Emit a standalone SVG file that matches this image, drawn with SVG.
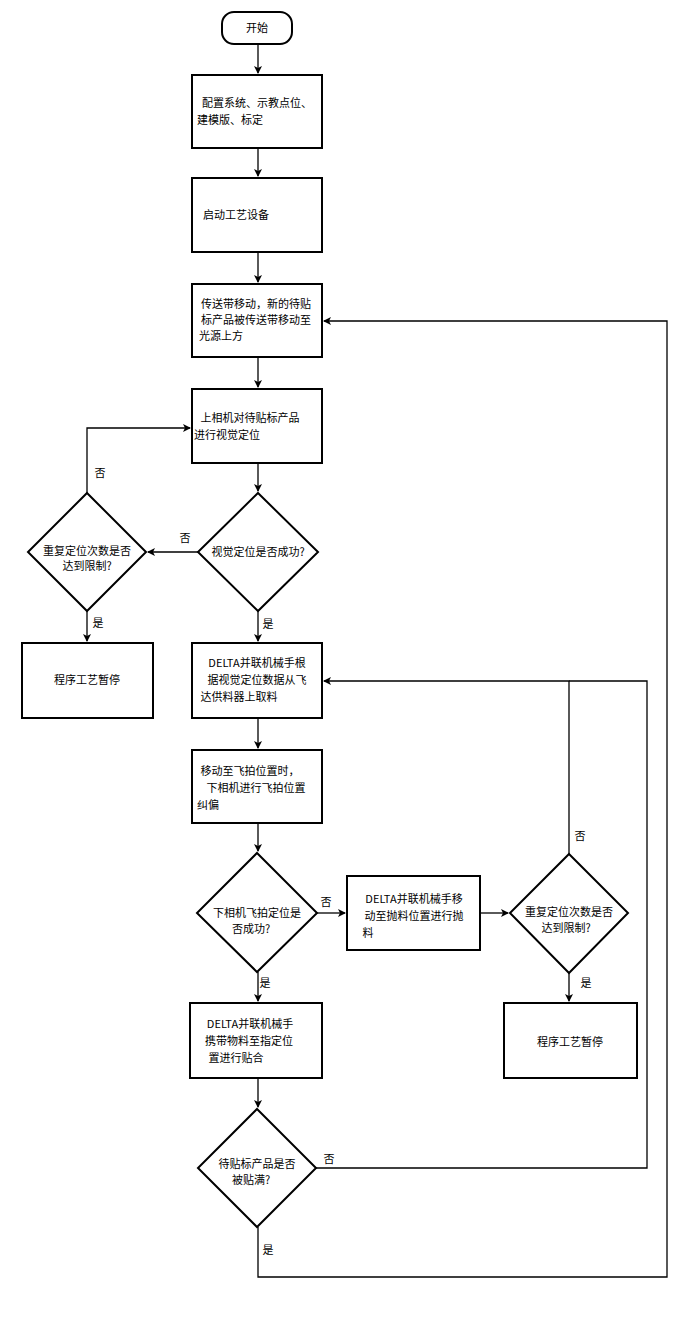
<svg xmlns="http://www.w3.org/2000/svg" width="687" height="1327" viewBox="0 0 687 1327">
<defs><marker id="a" markerWidth="8" markerHeight="8" refX="7" refY="4" orient="auto" markerUnits="userSpaceOnUse"><path d="M0,0 L8,4 L0,8 L2,4 Z" fill="#000"/></marker></defs>
<style>
.n{fill:#fff;stroke:#000;stroke-width:2}
text{font-family:"Noto Sans CJK SC","Noto Sans",sans-serif;font-size:11px;fill:#000}
.c text{text-anchor:middle}
.e path{fill:none;stroke:#000;stroke-width:1.3;marker-end:url(#a)}
</style>
<rect width="687" height="1327" fill="#fff"/>
<g class="e">
<path d="M258,44V73"/><path d="M258,148V176"/><path d="M258,252V282"/><path d="M258,357V387"/><path d="M258,463V491"/>
<path d="M198,552H148"/><path d="M87,493V428H190"/><path d="M87,611V641"/><path d="M258,611V641"/>
<path d="M258,718V748"/><path d="M258,823V851"/><path d="M317,913H345"/><path d="M480,913H508"/>
<path d="M569,854V681H324"/><path d="M569,973V1001"/><path d="M258,972V1001"/><path d="M258,1078V1107"/>
<path d="M316,1168H647V681H569" style="marker-end:none"/><path d="M258,1227V1277H667V321H324"/>
</g>
<g class="c">
<g id="start"><rect class="n" x="222" y="12" width="70" height="32" rx="12"/><text x="257" y="32">开始</text></g>
<g id="b1"><rect class="n" x="192" y="75" width="130" height="73"/><text x="257" y="107">配置系统、示教点位、</text><text x="230" y="124">建模版、标定</text></g>
<g id="b2"><rect class="n" x="192" y="178" width="130" height="74"/><text x="236" y="219">启动工艺设备</text></g>
<g id="b3"><rect class="n" x="192" y="284" width="130" height="73"/><text x="256" y="308">传送带移动，新的待贴</text><text x="256" y="324">标产品被传送带移动至</text><text x="221" y="340">光源上方</text></g>
<g id="b4"><rect class="n" x="192" y="389" width="130" height="74"/><text x="250" y="422">上相机对待贴标产品</text><text x="227" y="439">进行视觉定位</text></g>
<g id="d1"><path class="n" d="M258,493L318,552L258,611L198,552Z"/><text x="258" y="556">视觉定位是否成功?</text></g>
<g id="d2"><path class="n" d="M87,493L146,552L87,611L28,552Z"/><text x="87" y="555">重复定位次数是否</text><text x="87" y="570">达到限制?</text></g>
<g id="p1"><rect class="n" x="22" y="643" width="131" height="75"/><text x="87" y="684">程序工艺暂停</text></g>
<g id="b5"><rect class="n" x="192" y="643" width="130" height="75"/><text x="257" y="667">DELTA并联机械手根</text><text x="257" y="684">据视觉定位数据从飞</text><text x="239" y="701">达供料器上取料</text></g>
<g id="b6"><rect class="n" x="192" y="750" width="130" height="73"/><text x="250" y="775">移动至飞拍位置时，</text><text x="256" y="792">下相机进行飞拍位置</text><text x="208" y="809">纠偏</text></g>
<g id="d3"><path class="n" d="M257,853L317,913L257,972L197,913Z"/><text x="257" y="917">下相机飞拍定位是</text><text x="251" y="933">否成功?</text></g>
<g id="b7"><rect class="n" x="347" y="876" width="133" height="74"/><text x="414" y="903">DELTA并联机械手移</text><text x="414" y="920">动至抛料位置进行抛</text><text x="368" y="937">料</text></g>
<g id="d4"><path class="n" d="M569,854L628,913L569,973L510,913Z"/><text x="569" y="916">重复定位次数是否</text><text x="566" y="932">达到限制?</text></g>
<g id="p2"><rect class="n" x="504" y="1003" width="133" height="75"/><text x="570" y="1046">程序工艺暂停</text></g>
<g id="b8"><rect class="n" x="190" y="1003" width="132" height="75"/><text x="250" y="1028">DELTA并联机械手</text><text x="249" y="1045">携带物料至指定位</text><text x="236" y="1062">置进行贴合</text></g>
<g id="d5"><path class="n" d="M257,1109L316,1168L257,1227L198,1168Z"/><text x="257" y="1168">待贴标产品是否</text><text x="251" y="1184">被贴满?</text></g>
<text x="100" y="477">否</text><text x="185" y="542">否</text><text x="98" y="627">是</text><text x="268" y="628">是</text>
<text x="326" y="906">否</text><text x="580" y="840">否</text><text x="586" y="987">是</text><text x="265" y="987">是</text>
<text x="329" y="1163">否</text><text x="268" y="1254">是</text>
</g>
</svg>
